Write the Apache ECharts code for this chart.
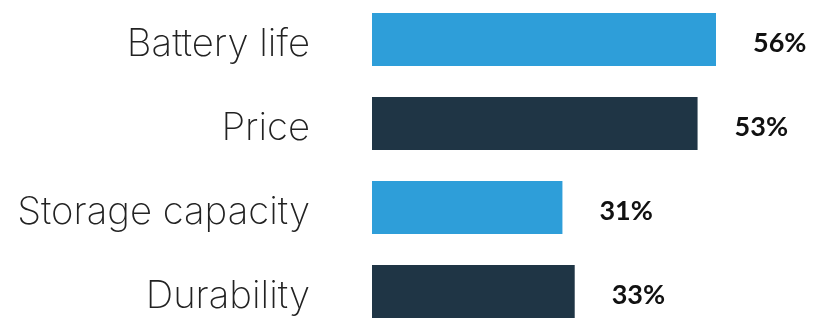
<!DOCTYPE html>
<html>
<head>
<meta charset="utf-8">
<script src="https://cdn.jsdelivr.net/npm/echarts@6/dist/echarts.min.js"></script>
<style>
html,body{margin:0;padding:0;background:#fff;}
#c{width:814px;height:321px;}
</style>
</head>
<body>
<div id="c"></div>
<script>
var categories = ["Battery life", "Price", "Storage capacity", "Durability"];
var values = [56, 53, 31, 33];
var palette = ["#2E9ED9", "#1F3545"];

var chart = echarts.init(document.getElementById('c'), null, {renderer: 'canvas'});
chart.setOption({
  animation: false,
  grid: {left: 372, top: -2.5, height: 336, width: 430, outerBoundsMode: 'none', containLabel: false},
  xAxis: {type: 'value', min: 0, max: 70, show: false},
  yAxis: {
    type: 'category', data: categories, inverse: true,
    axisLine: {show: false}, axisTick: {show: false},
    axisLabel: {
      margin: 62, fontFamily: 'Inter', fontWeight: 250, fontSize: 38.3,
      color: '#222222', verticalAlign: 'top', lineHeight: 10
    }
  },
  series: [{
    type: 'bar', data: values, barWidth: 53,
    itemStyle: {color: function (p) { return palette[p.dataIndex % 2]; }},
    label: {
      show: true, position: 'right', distance: 37,
      formatter: '{c}%', fontFamily: 'Lato', fontWeight: 'bold', fontSize: 27,
      color: '#111111', verticalAlign: 'top', lineHeight: 8
    }
  }]
});
</script>
</body>
</html>
